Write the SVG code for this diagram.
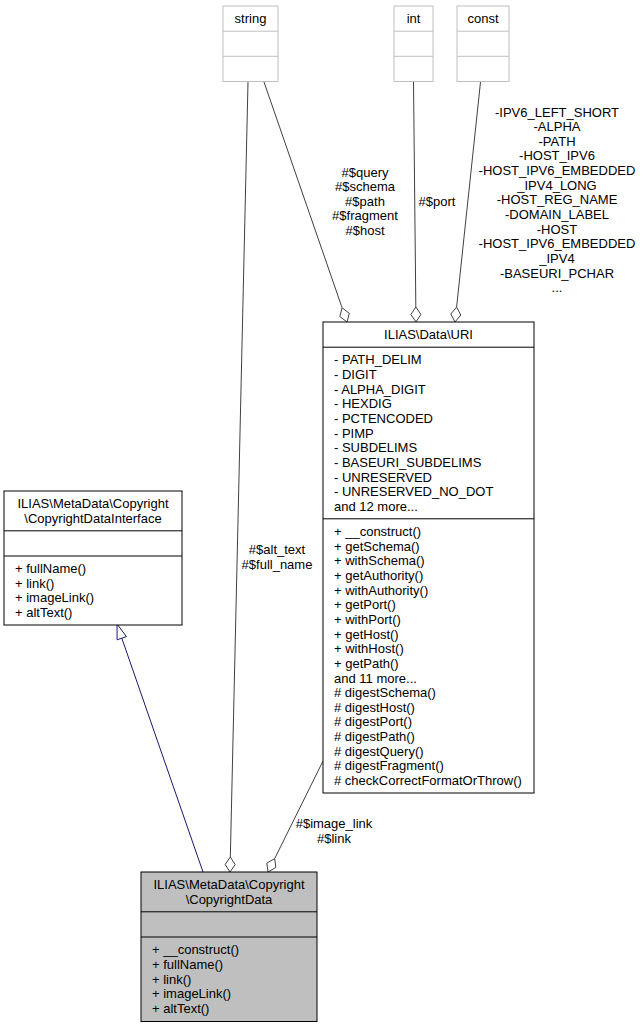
<svg xmlns="http://www.w3.org/2000/svg" width="644" height="1028" viewBox="0 0 644 1028">
<style>
text{font-family:"Liberation Sans",Arial,sans-serif;font-size:13px;fill:#000}
.c{text-anchor:middle}
.box{fill:#fff;stroke:#000;stroke-width:1}
.gbox{fill:#fff;stroke:#bfbfbf;stroke-width:1}
.sel{fill:#bfbfbf;stroke:#000;stroke-width:1}
.e{fill:none;stroke:#404040;stroke-width:1}
.d{fill:#fff;stroke:#404040;stroke-width:1}
.inh{fill:none;stroke:#191970;stroke-width:1}
.tri{fill:#fff;stroke:#191970;stroke-width:1}
</style>
<rect width="644" height="1028" fill="#fff"/>
<g id="edges">
<line class="inh" x1="203" y1="872" x2="121.8" y2="638.2"/>
<polygon class="tri" points="117,624 126.5,636.6 117.1,639.8"/>
<line class="e" x1="248" y1="82" x2="230.34" y2="857"/>
<polygon class="d" points="230,872 235.17,864.6 230.34,857 225.17,864.4"/>
<line class="e" x1="323" y1="761" x2="274.7" y2="858.6"/>
<polygon class="d" points="268,872 275.8,867.5 274.7,858.6 266.8,863.1"/>
<line class="e" x1="264" y1="82" x2="342.1" y2="307.8"/>
<polygon class="d" points="347,322 349.3,313.3 342.1,307.8 339.8,316.5"/>
<line class="e" x1="413.5" y1="82" x2="415.84" y2="307"/>
<polygon class="d" points="416,322 420.9,314.45 415.84,307 410.9,314.55"/>
<line class="e" x1="480.5" y1="82" x2="456.6" y2="307.1"/>
<polygon class="d" points="455,322 460.8,315 456.6,307.1 450.8,314"/>
<text class="c" x="277" y="554">#$alt_text</text>
<text class="c" x="277" y="568.6">#$full_name</text>
<text class="c" x="334" y="828">#$image_link</text>
<text class="c" x="334" y="842.6">#$link</text>
<text class="c" x="365" y="176.5">#$query</text>
<text class="c" x="365" y="191.1">#$schema</text>
<text class="c" x="365" y="205.8">#$path</text>
<text class="c" x="365" y="220.4">#$fragment</text>
<text class="c" x="365" y="235.1">#$host</text>
<text class="c" x="437" y="205.5">#$port</text>
<text class="c" x="557" y="116.5">-IPV6_LEFT_SHORT</text>
<text class="c" x="557" y="131.1">-ALPHA</text>
<text class="c" x="557" y="145.8">-PATH</text>
<text class="c" x="557" y="160.4">-HOST_IPV6</text>
<text class="c" x="557" y="175.1">-HOST_IPV6_EMBEDDED</text>
<text class="c" x="557" y="189.7">_IPV4_LONG</text>
<text class="c" x="557" y="204.4">-HOST_REG_NAME</text>
<text class="c" x="557" y="219">-DOMAIN_LABEL</text>
<text class="c" x="557" y="233.7">-HOST</text>
<text class="c" x="557" y="248.3">-HOST_IPV6_EMBEDDED</text>
<text class="c" x="557" y="263">_IPV4</text>
<text class="c" x="557" y="277.6">-BASEURI_PCHAR</text>
<text class="c" x="557" y="292.3">...</text>
</g>
<g id="node-string">
<rect class="gbox" x="223" y="6" width="55" height="75.5"/>
<line class="gbox" x1="223" y1="31.2" x2="278" y2="31.2"/>
<line class="gbox" x1="223" y1="56.3" x2="278" y2="56.3"/>
<text class="c" x="250.5" y="23.2">string</text>
</g>
<g id="node-int">
<rect class="gbox" x="394" y="6" width="39" height="75.5"/>
<line class="gbox" x1="394" y1="31.2" x2="433" y2="31.2"/>
<line class="gbox" x1="394" y1="56.3" x2="433" y2="56.3"/>
<text class="c" x="413.5" y="23.2">int</text>
</g>
<g id="node-const">
<rect class="gbox" x="457" y="6" width="52" height="75.5"/>
<line class="gbox" x1="457" y1="31.2" x2="509" y2="31.2"/>
<line class="gbox" x1="457" y1="56.3" x2="509" y2="56.3"/>
<text class="c" x="483" y="23.2">const</text>
</g>
<g id="node-uri">
<rect class="box" x="323" y="322" width="211" height="471"/>
<line class="box" x1="323" y1="347.2" x2="534" y2="347.2"/>
<line class="box" x1="323" y1="518.8" x2="534" y2="518.8"/>
<text class="c" x="428.5" y="339.2">ILIAS\Data\URI</text>
<text x="334" y="364.3">- PATH_DELIM</text>
<text x="334" y="378.95">- DIGIT</text>
<text x="334" y="393.6">- ALPHA_DIGIT</text>
<text x="334" y="408.25">- HEXDIG</text>
<text x="334" y="422.9">- PCTENCODED</text>
<text x="334" y="437.55">- PIMP</text>
<text x="334" y="452.2">- SUBDELIMS</text>
<text x="334" y="466.85">- BASEURI_SUBDELIMS</text>
<text x="334" y="481.5">- UNRESERVED</text>
<text x="334" y="496.15">- UNRESERVED_NO_DOT</text>
<text x="334" y="510.8">and 12 more...</text>
<text x="334" y="536">+ __construct()</text>
<text x="334" y="550.65">+ getSchema()</text>
<text x="334" y="565.3">+ withSchema()</text>
<text x="334" y="579.95">+ getAuthority()</text>
<text x="334" y="594.6">+ withAuthority()</text>
<text x="334" y="609.25">+ getPort()</text>
<text x="334" y="623.9">+ withPort()</text>
<text x="334" y="638.55">+ getHost()</text>
<text x="334" y="653.2">+ withHost()</text>
<text x="334" y="667.85">+ getPath()</text>
<text x="334" y="682.5">and 11 more...</text>
<text x="334" y="697.15"># digestSchema()</text>
<text x="334" y="711.8"># digestHost()</text>
<text x="334" y="726.45"># digestPort()</text>
<text x="334" y="741.1"># digestPath()</text>
<text x="334" y="755.75"># digestQuery()</text>
<text x="334" y="770.4"># digestFragment()</text>
<text x="334" y="785.05"># checkCorrectFormatOrThrow()</text>
</g>
<g id="node-interface">
<rect class="box" x="4" y="491" width="178" height="134"/>
<line class="box" x1="4" y1="530.8" x2="182" y2="530.8"/>
<line class="box" x1="4" y1="556" x2="182" y2="556"/>
<text class="c" x="93" y="508.1">ILIAS\MetaData\Copyright</text>
<text class="c" x="93" y="522.8">\CopyrightDataInterface</text>
<text x="15" y="573.1">+ fullName()</text>
<text x="15" y="587.75">+ link()</text>
<text x="15" y="602.4">+ imageLink()</text>
<text x="15" y="617.05">+ altText()</text>
</g>
<g id="node-copyrightdata">
<rect class="sel" x="141" y="872" width="176" height="149.5"/>
<line class="sel" x1="141" y1="911.8" x2="317" y2="911.8"/>
<line class="sel" x1="141" y1="937" x2="317" y2="937"/>
<text class="c" x="229" y="889.2">ILIAS\MetaData\Copyright</text>
<text class="c" x="229" y="903.8">\CopyrightData</text>
<text x="152" y="954.2">+ __construct()</text>
<text x="152" y="968.85">+ fullName()</text>
<text x="152" y="983.5">+ link()</text>
<text x="152" y="998.15">+ imageLink()</text>
<text x="152" y="1012.8">+ altText()</text>
</g>
</svg>
